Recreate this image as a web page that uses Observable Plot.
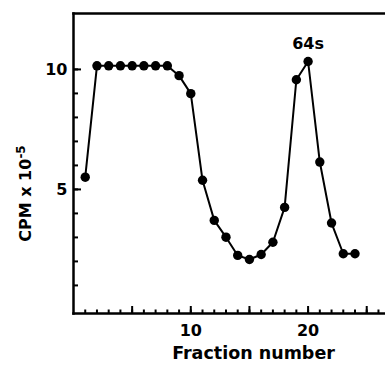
<!DOCTYPE html>
<html>
<head>
<meta charset="utf-8">
<script src="https://cdn.jsdelivr.net/npm/d3@7"></script>
<script src="https://cdn.jsdelivr.net/npm/@observablehq/plot@0.6"></script>
<style>
  html, body { margin: 0; padding: 0; background: #fff; }
  svg { display: block; }
</style>
</head>
<body>
<div id="chart"></div>
<script>
const fractions = [1, 2, 3, 4, 5, 6, 7, 8, 9, 10, 11, 12, 13, 14, 15, 16, 17, 18, 19, 20, 21, 22, 23, 24];
const cpm = [5.51, 10.15, 10.15, 10.15, 10.15, 10.15, 10.15, 10.15, 9.74, 8.99, 5.38, 3.71, 3.01, 2.25, 2.08, 2.29, 2.80, 4.25, 9.57, 10.33, 6.14, 3.60, 2.32, 2.32];
const peakLabels = ["64s"];
const peakFractions = [20];
const xMajorTicks = [5, 10, 15, 20, 25];
const xLabelTicks = [10, 20];
const xMinorTicks = d3.range(1, 27);
const yMajorTicks = [5, 10];
const yMinorTicks = d3.range(1, 11);
const xLabel = "Fraction number";
const yLabelMain = "CPM x 10";
const yLabelExp = "-5";

const data = fractions.map((f, i) => ({fraction: f, cpm: cpm[i]}));
const peaks = peakLabels.map((t, i) => ({label: t, fraction: peakFractions[i], cpm: cpm[fractions.indexOf(peakFractions[i])]}));

const font = "'DejaVu Sans', sans-serif";

const chart = Plot.plot({
  width: 385,
  height: 370,
  marginLeft: 73,
  marginRight: 0,
  marginTop: 13,
  marginBottom: 57,
  style: {fontFamily: font, fontWeight: "bold", background: "#fff", color: "#000", overflow: "visible"},
  x: {domain: [0, 26.6]},
  y: {domain: [-0.17, 12.33]},
  marks: [
    Plot.axisX({ticks: xMinorTicks, tickSize: -3.5, tickFormat: () => "", strokeWidth: 2, label: null}),
    Plot.axisX({ticks: xMajorTicks, tickSize: -7, tickFormat: () => "", strokeWidth: 2, label: null}),
    Plot.axisX({ticks: xLabelTicks, tickSize: 0, tickPadding: 11, fontSize: 16, label: null}),
    Plot.axisY({ticks: yMinorTicks, tickSize: -5, tickFormat: () => "", strokeWidth: 2, label: null}),
    Plot.axisY({ticks: yMajorTicks, tickSize: -8, tickFormat: () => "", strokeWidth: 2, label: null}),
    Plot.axisY({ticks: yMajorTicks, tickSize: 0, tickPadding: 6, fontSize: 16, label: null}),
    Plot.frame({anchor: "left", strokeWidth: 2.5}),
    Plot.frame({anchor: "bottom", strokeWidth: 2.5}),
    Plot.frame({anchor: "top", strokeWidth: 2.5}),
    Plot.line(data, {x: "fraction", y: "cpm", stroke: "#000", strokeWidth: 2}),
    Plot.dot(data, {x: "fraction", y: "cpm", r: 4.7, fill: "#000", stroke: "none"}),
    Plot.text(peaks, {x: "fraction", y: "cpm", text: "label", dy: -18, fontSize: 16, fontWeight: "bold"}),
    Plot.text([xLabel], {frameAnchor: "bottom", lineAnchor: "middle", textAnchor: "middle", dy: 40, dx: 24, fontSize: 17.5, fontWeight: "bold"}),
    Plot.text([yLabelMain], {frameAnchor: "left", textAnchor: "middle", lineAnchor: "middle", rotate: -90, dx: -48, dy: 30, fontSize: 16, fontWeight: "bold", letterSpacing: "1px"})
  ]
});
// add the exponent as a superscript tspan
chart.querySelectorAll("text").forEach(t => {
  if (t.textContent === yLabelMain) {
    const ts = document.createElementNS("http://www.w3.org/2000/svg", "tspan");
    ts.setAttribute("dy", "-0.45em");
    ts.setAttribute("font-size", "12");
    ts.textContent = yLabelExp;
    t.appendChild(ts);
  }
});
document.getElementById("chart").appendChild(chart);
</script>
</body>
</html>
